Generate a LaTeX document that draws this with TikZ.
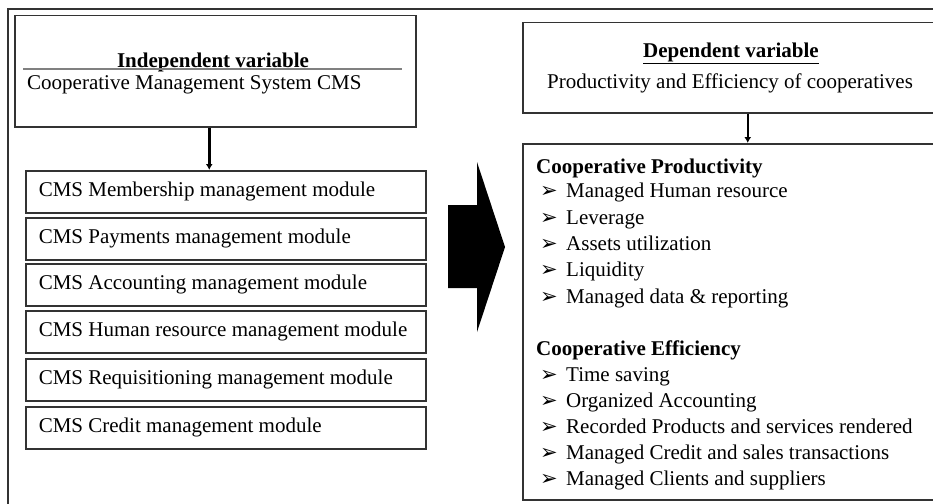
\documentclass[tikz,border=0pt]{standalone}
\usepackage{fontspec}
\setmainfont{Liberation Serif}
\newfontfamily\arrowfont{DejaVu Sans}
\usetikzlibrary{arrows.meta}
\newcommand{\bul}{{\arrowfont\fontsize{21}{21}\selectfont ➢}}
\begin{document}
\begin{tikzpicture}[x=1pt, y=-1pt,
    every node/.style={font=\fontsize{21}{25}\selectfont},
    head/.style={font=\fontsize{21}{25}\selectfont\bfseries, inner sep=0pt},
    box/.style={draw=black!80, line width=1.5pt, anchor=north west, inner sep=0pt},
    module/.style={box, minimum width=400pt, minimum height=42pt, inner xsep=13pt},
    item/.style={anchor=west, inner sep=0pt, text height=14pt, text depth=5pt},
    flow/.style={line width=2.5pt, -{Latex[length=6pt,width=7pt]}}]
    \useasboundingbox (0,0) rectangle (933,503);
    \draw[black!80, line width=1.5pt] (8,9) rectangle (950,515);
    % independent variable
    \node[box, minimum width=401pt, minimum height=111pt] (indep) at (14,15) {};
    \node[head] (indeptitle) at (213,62) {Independent variable};
    \draw[gray, line width=2pt] (23,69) -- (402,69);
    \node[item] (cms) at (27,85) {Cooperative Management System CMS};
    \foreach \name/\top/\txt in {m1/170/Membership, m2/217/Payments, m3/263/Accounting,
        m4/310/Human resource, m5/358/Requisitioning, m6/406/Credit}
        \node[module] (\name) at (25,\top) {\makebox[374pt][l]{CMS \txt\ management module}};
    \draw[flow] ([xshift=-6pt]indep.south) -- ([xshift=-6pt]indep.south |- m1.north);
    \fill (448,205) -- (477,205) -- (477,162) -- (505,247) -- (477,332) -- (477,288) -- (448,288) -- cycle;
    % dependent variable
    \node[box, minimum width=416pt, minimum height=90pt] (dep) at (522,22) {};
    \node[head] (deptitle) at (731,53) {\underline{Dependent variable}};
    \node[inner sep=0pt] (depsub) at (730,83) {Productivity and Efficiency of cooperatives};
    \node[box, minimum width=416pt, minimum height=356pt] (ind) at (522,143) {};
    \draw[flow] ([xshift=17pt]dep.south) -- ([xshift=17pt]ind.north);
    \node[item, head] (prodhead) at (536,168.5) {Cooperative Productivity};
    \foreach \txt [count=\i] in {Managed Human resource, Leverage, Assets utilization,
        Liquidity, Managed data \& reporting}
        \node[item] (p\i) at (540,{167+26.3*\i}) {\makebox[26pt][l]{\bul}\txt};
    \node[item, head] (effhead) at (536,350.5) {Cooperative Efficiency};
    \foreach \txt [count=\i] in {Time saving, Organized Accounting, Recorded Products and services rendered,
        Managed Credit and sales transactions, Managed Clients and suppliers}
        \node[item] (e\i) at (540,{350.5+26*\i}) {\makebox[26pt][l]{\bul}\txt};
\end{tikzpicture}
\end{document}
